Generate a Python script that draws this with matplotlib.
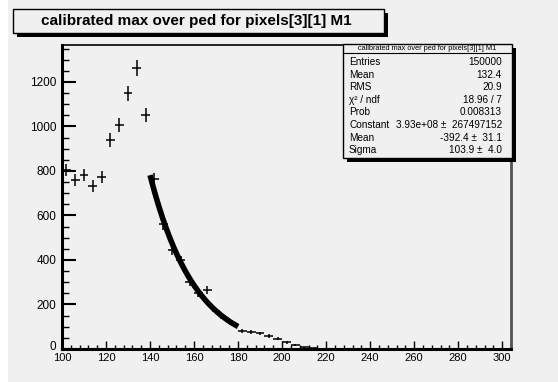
import numpy as np
import matplotlib
matplotlib.use("Agg")
import matplotlib.pyplot as plt
import matplotlib.transforms as mtransforms
from matplotlib.patches import Rectangle
from matplotlib.ticker import MultipleLocator

# Histogram: 51 bins of width 4 between 100 and 304
bin_lo, bin_hi, bin_w = 100, 304, 4
bin_centers = np.arange(bin_lo + bin_w / 2, bin_hi, bin_w)
counts = [804, 760, 782, 733, 773, 939, 1007, 1150, 1263, 1052,
          765, 560, 445, 400, 300, 250, 265, 170, 140, 112,
          82, 78, 70, 58, 45, 30, 18, 8, 4, 2,
          0, 0, 0, 0, 0, 0, 0, 0, 0, 0,
          0, 0, 0, 0, 0, 0, 0, 0, 0, 0, 0]

# Gaussian fit parameters over 140..180
fit_const = 3.93e8
fit_mean = -392.4
fit_sigma = 103.9
fit_range = (140, 180)

stats_labels = ["Entries", "Mean", "RMS", "\u03c7\u00b2 / ndf", "Prob",
                "Constant", "Mean", "Sigma"]
stats_values = ["150000", "132.4", "20.9", "18.96 / 7", "0.008313",
                "3.93e+08 \u00b1  267497152", "-392.4 \u00b1  31.1", "103.9 \u00b1  4.0"]
title = "calibrated max over ped for pixels[3][1] M1"

W, H = 558, 382
BG = "#f0f0f0"
fig = plt.figure(figsize=(W / 100, H / 100), dpi=100, facecolor=BG)
plt.rcParams["font.family"] = ["Liberation Sans", "DejaVu Sans"]


def fx(px):
    return px / W


def fy(py):
    return 1 - py / H


# white strip on the left edge
fig.patches.append(Rectangle((0, 0), fx(8), 1, transform=fig.transFigure,
                             facecolor="white", edgecolor="none", zorder=0))

ax_l, ax_r, ax_t, ax_b = 62, 511, 45, 349
ax = fig.add_axes([fx(ax_l), fy(ax_b), fx(ax_r - ax_l), fy(ax_t) - fy(ax_b)])
ax.set_facecolor(BG)

counts_arr = np.array(counts, dtype=float)
errs = np.sqrt(counts_arr)
mask = counts_arr > 0
ax.errorbar(bin_centers[mask], counts_arr[mask], yerr=errs[mask], xerr=bin_w / 2,
            fmt="none", ecolor="black", elinewidth=1.1, capsize=0)
# empty bins are drawn as flat horizontal dashes on zero
ax.errorbar(bin_centers[~mask], counts_arr[~mask], xerr=bin_w / 2,
            fmt="none", ecolor="black", elinewidth=1.1, capsize=0)

xf = np.linspace(fit_range[0], fit_range[1], 200)
yf = fit_const * np.exp(-0.5 * ((xf - fit_mean) / fit_sigma) ** 2)
ax.plot(xf, yf, color="black", lw=4.0, solid_capstyle="butt")

ax.set_xlim(bin_lo, bin_hi)
ax.set_ylim(0, 1366)
ax.xaxis.set_major_locator(MultipleLocator(20))
ax.xaxis.set_minor_locator(MultipleLocator(4))
ax.yaxis.set_major_locator(MultipleLocator(200))
ax.yaxis.set_minor_locator(MultipleLocator(50))
ax.tick_params(axis="x", which="major", direction="in", length=6, width=1.0,
               labelsize=8, pad=3, top=False)
ax.tick_params(axis="x", which="minor", direction="in", length=3, width=1.0, top=False)
ax.tick_params(axis="y", which="major", direction="in", length=10, width=1.5,
               labelsize=8.5, pad=4, right=False)
ax.tick_params(axis="y", which="minor", direction="in", length=5, width=1.0, right=False)
for s in ("left", "bottom"):
    ax.spines[s].set_linewidth(2.2)
    ax.spines[s].set_color("black")
ax.spines["top"].set_linewidth(1.2)
ax.spines["top"].set_color("black")
ax.spines["right"].set_linewidth(2.0)
ax.spines["right"].set_color("#555555")

# lift the y "0" label a little so it clears the first x label
fig.canvas.draw()
zero_lbl = ax.yaxis.get_majorticklabels()[0]
for lbl in ax.yaxis.get_majorticklabels():
    if lbl.get_text() == "0":
        zero_lbl = lbl
zero_lbl.set_transform(zero_lbl.get_transform() +
                       mtransforms.ScaledTranslation(0, 4 / 100, fig.dpi_scale_trans))


def shadow_box(x0, y0, x1, y1, off=4):
    fig.patches.append(Rectangle((fx(x0 + off), fy(y1 + off)), fx(x1 - x0), fy(y0) - fy(y1),
                                 transform=fig.transFigure, facecolor="black",
                                 edgecolor="none", zorder=5))
    fig.patches.append(Rectangle((fx(x0), fy(y1)), fx(x1 - x0), fy(y0) - fy(y1),
                                 transform=fig.transFigure, facecolor=BG,
                                 edgecolor="black", lw=1.0, zorder=6))


# title box
shadow_box(13, 9, 384, 33, off=4)
fig.text(fx(196), fy(21), title, ha="center", va="center", fontsize=11,
         fontweight="bold", zorder=7)

# statistics box
sx0, sy0, sx1, sy1 = 343, 44, 512, 158
shadow_box(sx0, sy0, sx1, sy1, off=4)
fig.lines.append(plt.Line2D([fx(sx0), fx(sx1)], [fy(53), fy(53)],
                            transform=fig.transFigure, color="black", lw=0.8, zorder=7))
fig.text(fx((sx0 + sx1) / 2), fy(48.5), title, ha="center", va="center",
         fontsize=5.3, zorder=7)
row_y0, row_dy = 62, 12.6
for i, (lab, val) in enumerate(zip(stats_labels, stats_values)):
    yy = fy(row_y0 + i * row_dy)
    fig.text(fx(349), yy, lab, ha="left", va="center", fontsize=7.2, zorder=7)
    fig.text(fx(502), yy, val, ha="right", va="center", fontsize=7.2, zorder=7)

fig.savefig("out.png", dpi=100, facecolor=BG)
